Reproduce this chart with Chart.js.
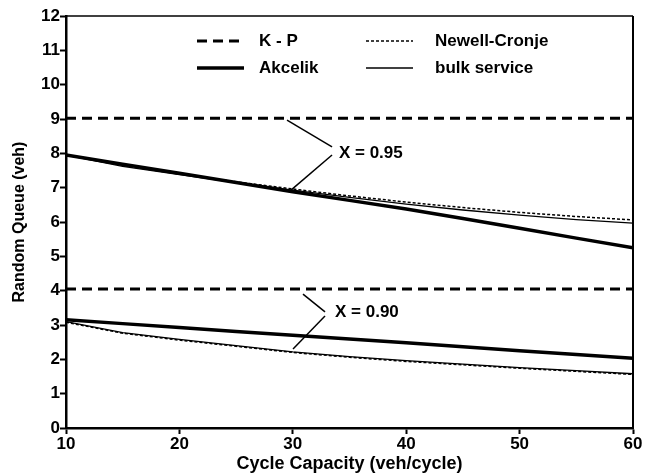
<!DOCTYPE html>
<html lang="en">
<head>
  <meta charset="UTF-8">
  <title>Random Queue</title>
  <script src="https://cdn.jsdelivr.net/npm/chart.js"></script>
  <style>
    body { margin: 0; background: #fff; }
  </style>
</head>
<body>
  <canvas id="myChart" width="648" height="475"></canvas>
  <script>
    // cycle capacity (veh/cycle)
    const capacity = [10, 15, 20, 25, 30, 35, 40, 45, 50, 55, 60]

    // X = 0.95
    const kp95     = [9.025, 9.025, 9.025, 9.025, 9.025, 9.025, 9.025, 9.025, 9.025, 9.025, 9.025]
    const akcelik95 = [7.95, 7.68, 7.42, 7.15, 6.88, 6.63, 6.38, 6.10, 5.82, 5.53, 5.25]
    const newell95 = [7.95, 7.65, 7.40, 7.17, 6.96, 6.76, 6.58, 6.42, 6.28, 6.16, 6.06]
    const bulk95   = [7.95, 7.62, 7.38, 7.15, 6.93, 6.72, 6.52, 6.35, 6.20, 6.07, 5.97]

    // X = 0.90
    const kp90     = [4.05, 4.05, 4.05, 4.05, 4.05, 4.05, 4.05, 4.05, 4.05, 4.05, 4.05]
    const akcelik90 = [3.15, 3.04, 2.93, 2.81, 2.70, 2.59, 2.48, 2.37, 2.25, 2.14, 2.03]
    const newell90 = [3.08, 2.76, 2.56, 2.38, 2.20, 2.06, 1.94, 1.84, 1.74, 1.65, 1.56]
    const bulk90   = [3.10, 2.78, 2.58, 2.40, 2.22, 2.08, 1.96, 1.86, 1.76, 1.67, 1.58]

    const xTicks = [10, 20, 30, 40, 50, 60]
    const yTicks = [0, 1, 2, 3, 4, 5, 6, 7, 8, 9, 10, 11, 12]

    // callouts: label, anchor of text, two leader lines [x1, y1, x2, y2] in data units
    const callouts = [
      { text: 'X = 0.95', at: [34.07, 8.01], lines: [[29.49, 8.97, 33.46, 8.19], [33.46, 7.95, 29.84, 6.93]] },
      { text: 'X = 0.90', at: [33.72, 3.38], lines: [[30.90, 3.90, 32.84, 3.38], [32.84, 3.26, 30.02, 2.30]] }
    ]

    const FONT = "'Liberation Sans', Arial, sans-serif"

    const styles = {
      'K - P':         { borderWidth: 3, borderDash: [10, 6] },
      'Akcelik':       { borderWidth: 3.5, borderDash: [] },
      'Newell-Cronje': { borderWidth: 1.5, borderDash: [3, 2] },
      'bulk service':  { borderWidth: 1.3, borderDash: [] }
    }

    function series(label, values) {
      return {
        label: label,
        data: values.map((v, i) => ({ x: capacity[i], y: v })),
        borderColor: '#000',
        borderWidth: styles[label].borderWidth,
        borderDash: styles[label].borderDash,
        pointRadius: 0,
        tension: 0,
        fill: false
      }
    }

    const framePlugin = {
      id: 'frame',
      afterDraw(chart) {
        const { ctx, chartArea: a } = chart
        ctx.save()
        ctx.strokeStyle = '#000'
        ctx.lineWidth = 1.5
        ctx.beginPath()
        ctx.moveTo(a.left, a.top)
        ctx.lineTo(a.right, a.top)
        ctx.stroke()
        ctx.lineWidth = 2
        ctx.beginPath()
        ctx.moveTo(a.right, a.top)
        ctx.lineTo(a.right, a.bottom)
        ctx.stroke()
        ctx.restore()
      }
    }

    const calloutPlugin = {
      id: 'callouts',
      afterDatasetsDraw(chart) {
        const { ctx } = chart
        const xs = chart.scales.x, ys = chart.scales.y
        ctx.save()
        ctx.strokeStyle = '#000'
        ctx.lineWidth = 1.5
        ctx.fillStyle = '#000'
        ctx.font = 'bold 17px ' + FONT
        ctx.textBaseline = 'middle'
        callouts.forEach(c => {
          c.lines.forEach(l => {
            ctx.beginPath()
            ctx.moveTo(xs.getPixelForValue(l[0]), ys.getPixelForValue(l[1]))
            ctx.lineTo(xs.getPixelForValue(l[2]), ys.getPixelForValue(l[3]))
            ctx.stroke()
          })
          ctx.fillText(c.text, xs.getPixelForValue(c.at[0]), ys.getPixelForValue(c.at[1]))
        })
        ctx.restore()
      }
    }

    // two-column legend inside the plot
    const legendPlugin = {
      id: 'innerLegend',
      afterDraw(chart) {
        const { ctx, chartArea: a } = chart
        const items = [
          ['K - P', 131, 25], ['Newell-Cronje', 300, 25],
          ['Akcelik', 131, 52], ['bulk service', 300, 52]
        ]
        ctx.save()
        ctx.fillStyle = '#000'
        ctx.strokeStyle = '#000'
        ctx.font = 'bold 17px ' + FONT
        ctx.textBaseline = 'middle'
        items.forEach(([label, dx, dy]) => {
          const s = styles[label]
          const x = a.left + dx, y = a.top + dy
          ctx.lineWidth = s.borderWidth
          ctx.setLineDash(s.borderDash)
          ctx.beginPath()
          ctx.moveTo(x, y)
          ctx.lineTo(x + 47, y)
          ctx.stroke()
          ctx.setLineDash([])
          ctx.fillText(label, x + (label.length > 8 ? 69 : 62), y)
        })
        ctx.restore()
      }
    }

    const ctx = document.getElementById('myChart')
    new Chart(ctx, {
      type: 'line',
      data: {
        datasets: [
          series('K - P', kp95),
          series('Akcelik', akcelik95),
          series('bulk service', bulk95),
          series('Newell-Cronje', newell95),
          series('K - P', kp90),
          series('Akcelik', akcelik90),
          series('bulk service', bulk90),
          series('Newell-Cronje', newell90)
        ]
      },
      options: {
        responsive: false,
        animation: false,
        layout: { padding: { top: 16, right: 15, left: 0, bottom: 0 } },
        plugins: {
          legend: { display: false },
          tooltip: { enabled: false }
        },
        scales: {
          x: {
            type: 'linear',
            min: 10,
            max: 60,
            afterFit: s => { s.height = 47 },
            afterBuildTicks: s => { s.ticks = xTicks.map(v => ({ value: v })) },
            ticks: { color: '#000', font: { family: FONT, size: 17, weight: 'bold' }, padding: 0, maxRotation: 0 },
            grid: { drawOnChartArea: false, tickLength: 6, tickWidth: 2, color: '#000' },
            border: { display: true, width: 2.5, color: '#000' },
            title: {
              display: true,
              text: 'Cycle Capacity (veh/cycle)',
              color: '#000',
              font: { family: FONT, size: 18, weight: 'bold' },
              padding: { top: 0, bottom: 0 }
            }
          },
          y: {
            min: 0,
            max: 12,
            afterFit: s => { s.width = 66 },
            afterBuildTicks: s => { s.ticks = yTicks.map(v => ({ value: v })) },
            ticks: { color: '#000', font: { family: FONT, size: 17, weight: 'bold' }, padding: 0 },
            grid: { drawOnChartArea: false, tickLength: 6, tickWidth: 2, color: '#000' },
            border: { display: true, width: 2.5, color: '#000' },
            title: {
              display: true,
              text: 'Random Queue (veh)',
              color: '#000',
              font: { family: FONT, size: 16, weight: 'bold' },
              padding: { top: 10, bottom: 0 }
            }
          }
        }
      },
      plugins: [framePlugin, calloutPlugin, legendPlugin]
    })
  </script>
</body>
</html>
